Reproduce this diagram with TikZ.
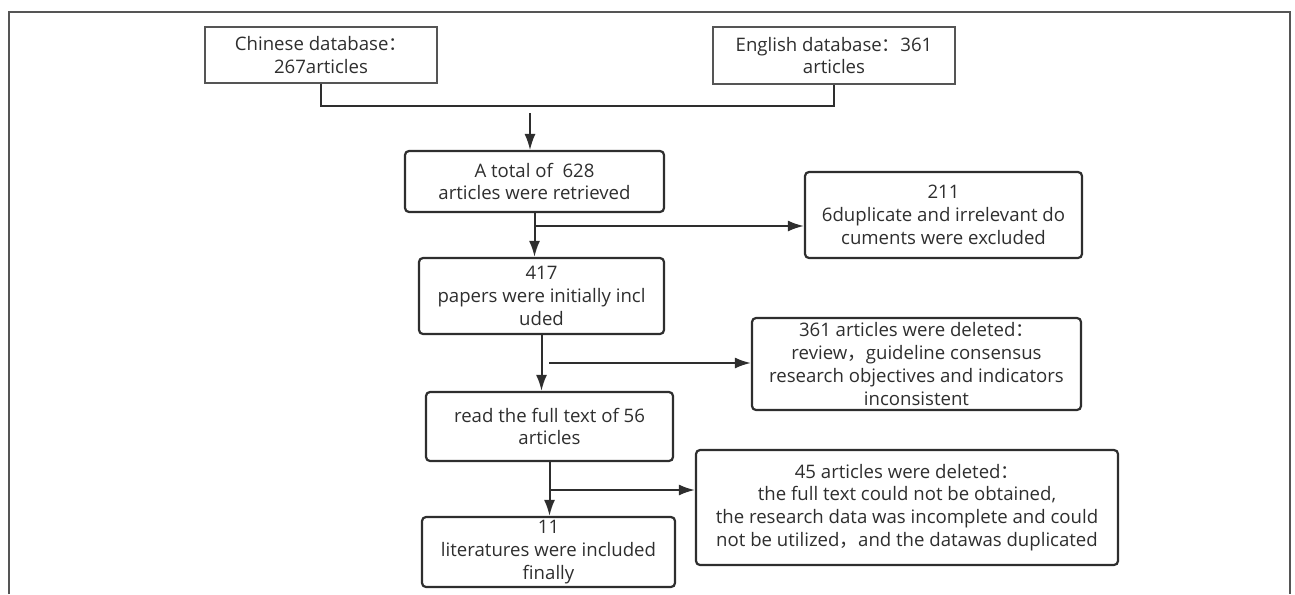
\documentclass[tikz,border=0pt]{standalone}
\usepackage{fontspec}
\setmainfont{Open Sans}
\newfontfamily\cjk{Noto Sans CJK SC}
\usepackage{tikz}
\usetikzlibrary{arrows.meta}
\definecolor{ink}{HTML}{2E2E2E}
\definecolor{rim}{HTML}{555555}

\begin{document}
\begin{tikzpicture}[x=0.5pt,y=-0.5pt,
            every node/.style={font=\fontsize{9.3}{11.4}\selectfont,text=ink,align=center,inner sep=0pt},
            dbbox/.style={draw=rim,line width=0.6pt},
            stagebox/.style={draw=ink,line width=1.1pt,rounded corners=2pt},
            flow/.style={draw=ink,line width=1pt},
            flowarrow/.style={flow,-{Latex[length=8pt,width=5.5pt]}}]
            \useasboundingbox (0,0) rectangle (1295,594);
            \draw[rim,line width=0.6pt] (9,594) -- (9,12) -- (1290,12) -- (1290,594);
            \node[dbbox,minimum width=116pt,minimum height=28pt] (chn) at (321,55) {Chinese database{\cjk ：}\\267articles};
            \node[dbbox,minimum width=121pt,minimum height=28.5pt] (eng) at (834,55.5) {English database{\cjk ：}361\\articles};
            \node[stagebox,minimum width=129.5pt,minimum height=30.5pt] (total) at (534.5,181.5) {A total of \ 628\\articles were retrieved};
            \node[stagebox,minimum width=138.5pt,minimum height=43pt] (dup) at (943.5,215) {211\\6duplicate and irrelevant do\\cuments were excluded};
            \node[stagebox,minimum width=122.5pt,minimum height=38pt] (incl) at (541.5,296) {417\\papers were initially incl\\uded};
            \node[stagebox,minimum width=164.5pt,minimum height=46pt] (review) at (916.5,364) {361 articles were deleted{\cjk ：}\\review{\cjk ，}guideline consensus\\research objectives and indicators\\inconsistent};
            \node[stagebox,minimum width=123.5pt,minimum height=34.5pt] (full) at (549.5,426.5) {read the full text of 56\\articles};
            \node[stagebox,minimum width=211pt,minimum height=57.5pt] (lost) at (907,507.5) {45 articles were deleted{\cjk ：}\\the full text could not be obtained,\\the research data was incomplete and could\\not be utilized{\cjk ，}and the datawas duplicated};
            \node[stagebox,minimum width=126.5pt,minimum height=35pt] (final) at (548.5,552) {11\\literatures were included\\finally};
            \coordinate (merge) at (530,106);
            \coordinate (drop) at (530,113);
            \coordinate (split1) at (535,226);
            \coordinate (split2) at (549,363);
            \coordinate (split3) at (549,490);
            \draw[flow,line width=0.8pt] (chn.south) |- (merge) -| (eng.south);
            \draw[flowarrow,line width=0.7pt] (drop) -- (drop |- total.north);
            \draw[flowarrow] (total.south) -- (total.south |- incl.north);
            \draw[flowarrow] (split1) -- (split1 -| dup.west);
            \draw[flowarrow] (incl.south) -- (incl.south |- full.north);
            \draw[flowarrow] (split2) -- (split2 -| review.west);
            \draw[flowarrow] (full.south) -- (full.south |- final.north);
            \draw[flowarrow] (split3) -- (split3 -| lost.west);
        \end{tikzpicture}
\end{document}
